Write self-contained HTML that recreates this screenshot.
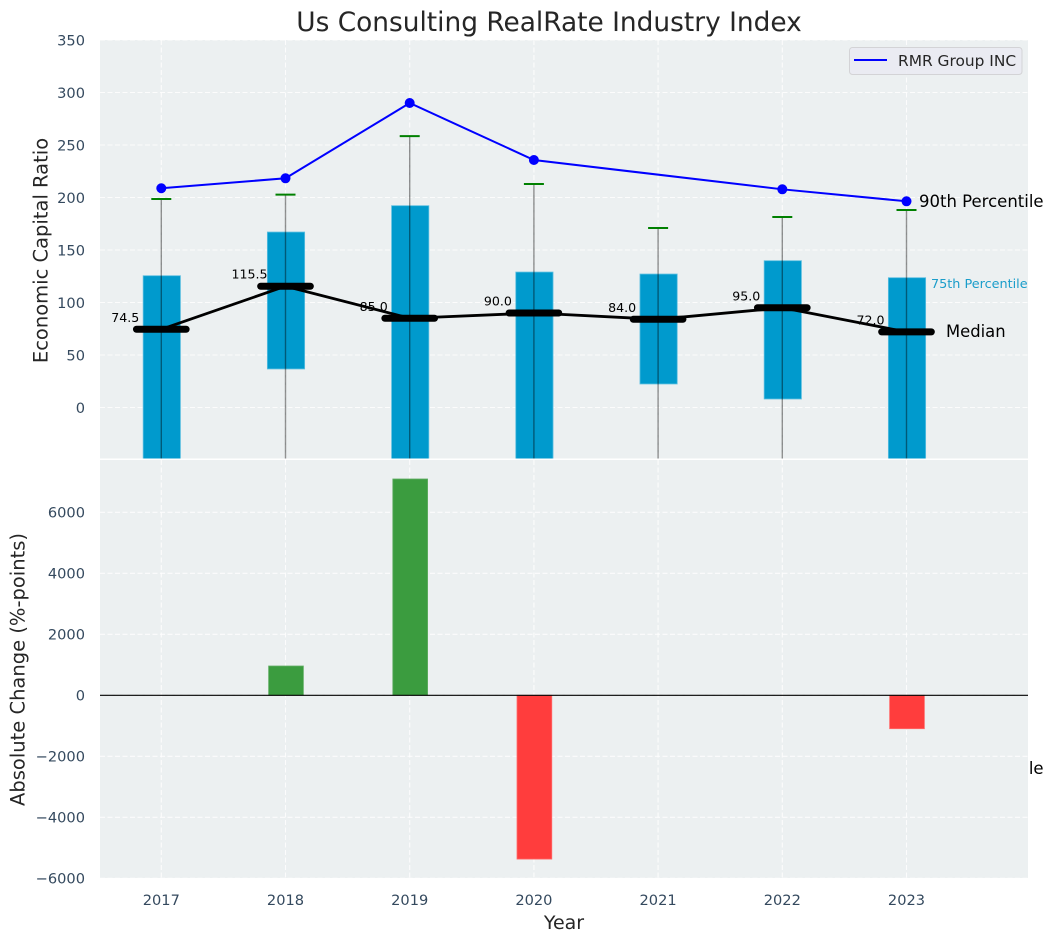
<!DOCTYPE html>
<html lang="en">
<head>
<meta charset="utf-8">
<title>Us Consulting RealRate Industry Index</title>
<style>
html,body{margin:0;padding:0;background:#fff;}
svg{display:block;font-family:"DejaVu Sans","Liberation Sans",sans-serif;}
</style>
</head>
<body>
<svg id="chart" xmlns="http://www.w3.org/2000/svg" width="1054" height="942" viewBox="0 0 1054 942"></svg>
<script>
const years = [2017, 2018, 2019, 2020, 2021, 2022, 2023];
const q25 = [-60, 36.7, -60, -60, 22.4, 8.1, -60];
const q75 = [125.5, 167.1, 192.2, 129, 127.1, 139.8, 123.6];
const median = [74.5, 115.5, 85, 90, 84, 95, 72];
const whiskerLow = [-100, -100, -100, -100, -100, -100, -100];
const whiskerHigh = [198.6, 202.7, 258.5, 212.9, 171, 181.4, 188.1];
const companyYears = [2017, 2018, 2019, 2020, 2022, 2023];
const companyValues = [208.8, 218.3, 290, 235.7, 207.8, 196.4];
const changeYears = [2018, 2019, 2020, 2023];
const changeValues = [960, 7092, -5370, -1095];
const topTicks = [0, 50, 100, 150, 200, 250, 300, 350];
const bottomTicks = [-6000, -4000, -2000, 0, 2000, 4000, 6000];

const NS = 'http://www.w3.org/2000/svg';
const svg = document.getElementById('chart');
const P = {left: 100, right: 1028, topA: 40, botA: 458.5, topB: 460, botB: 878};
const xScale = v => 161.3 + (v - 2017) * 124.2;
const xSpan = d => d * 124.2;
const yTop = v => 407.5 - v * 1.05;
const yBot = v => 695.3 - v * 0.0305;

function make(tag, attrs, parent, text) {
  const n = document.createElementNS(NS, tag);
  for (const k in attrs) n.setAttribute(k, attrs[k]);
  if (text !== undefined) n.textContent = text;
  (parent || svg).appendChild(n);
  return n;
}
function fmtTick(v) { return String(v).replace('-', '\u2212'); }

const defs = make('defs', {});
const clipA = make('clipPath', {id: 'clip-top'}, defs);
make('rect', {x: P.left, y: P.topA, width: P.right - P.left, height: P.botA - P.topA}, clipA);

// Title
const title = make('text', {x: 549, y: 31, 'text-anchor': 'middle', 'font-size': 26.4, fill: '#262626'}, svg, 'Us Consulting RealRate Industry Index');



// Annotation hidden behind the lower panel, only its tail shows
const hiddenLabel = make('text', {x: 919, y: 774, 'font-size': 16.5, fill: '#000'}, svg, '10th Percentile');



// Panels
const panelTop = make('rect', {x: P.left, y: P.topA, width: P.right - P.left, height: P.botA - P.topA, fill: '#ecf0f1'});


const panelBottom = make('rect', {x: P.left, y: P.topB, width: P.right - P.left, height: P.botB - P.topB, fill: '#ecf0f1'});



// Grid
const gridStyle = {stroke: '#ffffff', 'stroke-width': 1.1, 'stroke-dasharray': '5 2.5', opacity: 0.85};
years.forEach(y => {
  const a = make('line', Object.assign({x1: xScale(y), x2: xScale(y), y1: P.topA, y2: P.botA}, gridStyle));
  
  
  const b = make('line', Object.assign({x1: xScale(y), x2: xScale(y), y1: P.topB, y2: P.botB}, gridStyle));
  
  
  const t = make('text', {x: xScale(y), y: 905, 'text-anchor': 'middle', 'font-size': 14.6, fill: '#34495e'}, svg, String(y));
  
  
});
topTicks.forEach(v => {
  const g = make('line', Object.assign({x1: P.left, x2: P.right, y1: yTop(v), y2: yTop(v)}, gridStyle));
  
  
  const t = make('text', {x: 85, y: yTop(v) + 5.3, 'text-anchor': 'end', 'font-size': 14.6, fill: '#34495e'}, svg, fmtTick(v));
  
  
});
bottomTicks.forEach(v => {
  const g = make('line', Object.assign({x1: P.left, x2: P.right, y1: yBot(v), y2: yBot(v)}, gridStyle));
  
  
  const t = make('text', {x: 85, y: yBot(v) + 5.3, 'text-anchor': 'end', 'font-size': 14.6, fill: '#34495e'}, svg, fmtTick(v));
  
  
});

// Top panel marks
const topMarks = make('g', {'clip-path': 'url(#clip-top)'});



years.forEach((y, i) => {
  const w = xSpan(0.3);
  const yHi = yTop(q75[i]);
  const yLo = yTop(q25[i]);
  const bar = make('rect', {x: xScale(y) - w / 2 + 0.5, y: yHi, width: w, height: yLo - yHi, fill: '#009acd', stroke: '#5cbfe0', 'stroke-width': 0.8}, topMarks);
  
  
});
years.forEach((y, i) => {
  const wh = make('line', {x1: xScale(y), x2: xScale(y), y1: yTop(whiskerHigh[i]), y2: yTop(whiskerLow[i]), stroke: '#000', 'stroke-opacity': 0.42, 'stroke-width': 1.4}, topMarks);
  
  
  const cap = make('line', {x1: xScale(y) - 10, x2: xScale(y) + 10, y1: yTop(whiskerHigh[i]), y2: yTop(whiskerHigh[i]), stroke: '#008000', 'stroke-width': 2}, topMarks);
  
  
});

// Median labels sit under the line
years.forEach((y, i) => {
  const t = make('text', {x: xScale(y) - 36, y: yTop(median[i]) - 7.5, 'text-anchor': 'middle', 'font-size': 12.6, fill: '#000'}, topMarks, median[i].toFixed(1));
  
  
});

const medianLine = make('polyline', {points: years.map((y, i) => xScale(y) + ',' + yTop(median[i])).join(' '), fill: 'none', stroke: '#000', 'stroke-width': 2.8, 'stroke-linejoin': 'round'}, topMarks);



years.forEach((y, i) => {
  const d = make('line', {x1: xScale(y) - xSpan(0.2), x2: xScale(y) + xSpan(0.2), y1: yTop(median[i]), y2: yTop(median[i]), stroke: '#000', 'stroke-width': 7, 'stroke-linecap': 'round'}, topMarks);
  
  
});

const companyLine = make('polyline', {points: companyYears.map((y, i) => xScale(y) + ',' + yTop(companyValues[i])).join(' '), fill: 'none', stroke: '#0000ff', 'stroke-width': 2}, topMarks);


companyYears.forEach((y, i) => {
  const c = make('circle', {cx: xScale(y), cy: yTop(companyValues[i]), r: 5, fill: '#0000ff'}, topMarks);
  
  
});

// Annotations at the last year
const lastX = xScale(years[years.length - 1]);
const lastIdx = years.length - 1;
const a90 = make('text', {x: lastX + 12.5, y: yTop(companyValues[companyValues.length - 1]) + 5.5, 'font-size': 16.5, fill: '#000'}, svg, '90th Percentile');


const a75 = make('text', {x: lastX + 24.5, y: yTop(q75[lastIdx]) + 10.5, 'font-size': 12.8, fill: '#1a9dca'}, svg, '75th Percentile');


const aMed = make('text', {x: lastX + 39.5, y: yTop(median[lastIdx]) + 5, 'font-size': 16.4, fill: '#000'}, svg, 'Median');



// Change bars
changeYears.forEach((y, i) => {
  const v = changeValues[i];
  const w = xSpan(0.28);
  const y0 = yBot(Math.max(v, 0));
  const y1 = yBot(Math.min(v, 0));
  const b = make('rect', {x: xScale(y) - w / 2 + 0.5, y: y0, width: w, height: y1 - y0, fill: v >= 0 ? '#3b9c3f' : '#ff3d3d', stroke: v >= 0 ? '#60ad63' : '#ff6a6a', 'stroke-width': 0.8});
  
  
});
const zero = make('line', {x1: P.left, x2: P.right, y1: yBot(0), y2: yBot(0), stroke: '#000', 'stroke-width': 1.2});



// Axis titles
const yA = make('text', {transform: 'translate(47.5,250.5) rotate(-90)', 'text-anchor': 'middle', 'font-size': 19.5, fill: '#262626'}, svg, 'Economic Capital Ratio');


const yB = make('text', {transform: 'translate(24.5,669.5) rotate(-90)', 'text-anchor': 'middle', 'font-size': 19.5, fill: '#262626'}, svg, 'Absolute Change (%-points)');


const xA = make('text', {x: 564, y: 929, 'text-anchor': 'middle', 'font-size': 19, fill: '#262626'}, svg, 'Year');



// Legend
const legend = make('g', {});


const box = make('rect', {x: 849.5, y: 47.5, width: 172.5, height: 27, rx: 3, fill: '#eaeaf2', 'fill-opacity': 0.9, stroke: '#d3d3d6', 'stroke-width': 1}, legend);


const swatch = make('line', {x1: 854, x2: 887, y1: 60, y2: 60, stroke: '#0000ff', 'stroke-width': 2}, legend);


const legendText = make('text', {x: 898, y: 66, 'font-size': 15.4, fill: '#262626'}, legend, 'RMR Group INC');


</script>
</body>
</html>
